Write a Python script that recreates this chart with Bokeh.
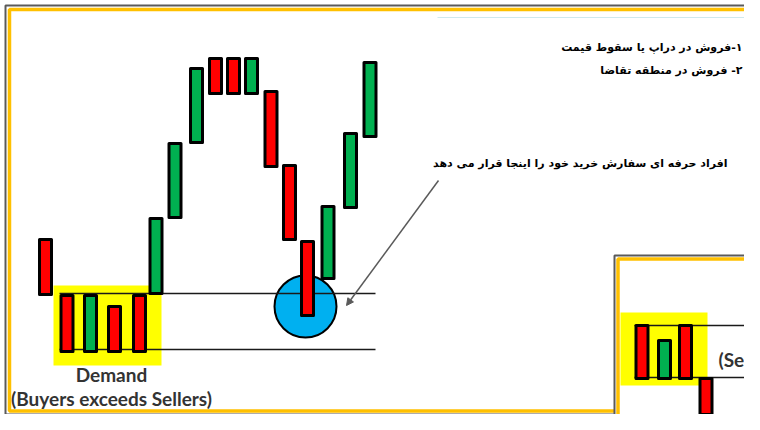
from bokeh.plotting import figure
from bokeh.models import Range1d, Arrow, NormalHead, ColumnDataSource
from bokeh.core.properties import value
from bokeh.embed import file_html
from bokeh.resources import INLINE

# ---- data (price units: price = 430 - screen y) ----
# main panel candles
cx = [45, 66.5, 90, 114, 139, 155.5, 174.5, 196, 215, 233, 251, 270.5, 289, 307, 327.5, 350, 369.5]
c_open = [191, 135, 79, 124, 135, 137, 213, 288, 372, 372, 337, 339, 265, 189, 152, 223, 294]
c_close = [136, 79, 135, 79, 79, 212, 287, 362, 337, 337, 372, 264, 191, 115, 224, 297, 368]
# second panel candles
cx2 = [641.5, 664, 685, 705.5]
c2_open = [105, 52, 105, 52]
c2_close = [52, 90, 52, -20]

support_level = [137, 81]        # demand zone levels
supply_level = [105, 53]         # second panel levels
demand_zone = dict(left=53, right=161, top=145, bottom=65)
supply_zone = dict(left=620, right=707, top=118, bottom=45)
retest = dict(x=305, y=124, r=31)

label_demand = "Demand"
label_demand2 = "(Buyers exceeds Sellers)"
label_supply2 = "(Sellers exceeds Buyers)"
fa_lines = ["۱-فروش در دراپ یا سقوط قیمت", "۲- فروش در منطقه تقاضا"]
fa_note = "افراد حرفه ای سفارش خرید خود را اینجا قرار می دهد"

RLE, PDF = "\u202B", "\u202C"

RED = "#ff0000"
GREEN = "#00b050"
YELLOW = "#ffff00"

p = figure(width=744, height=414, output_backend="svg", toolbar_location=None,
           x_range=Range1d(0, 744), y_range=Range1d(16, 430),
           min_border=0, outline_line_color=None)
p.axis.visible = False
p.grid.visible = False
p.background_fill_color = "white"
p.border_fill_color = "white"

# main frame
p.quad(left=[5], right=[759], top=[425], bottom=[16], fill_color=None,
       line_color="#5a5a5a", line_width=2)
p.quad(left=[9], right=[756], top=[421], bottom=[19.5], fill_color=None,
       line_color="#ffc000", line_width=3.5)
# faint line top right
p.line(x=[437, 750], y=[413, 413], line_color="#cfe9ee", line_width=1)

# demand zone
p.quad(left=[demand_zone["left"]], right=[demand_zone["right"]],
       top=[demand_zone["top"]], bottom=[demand_zone["bottom"]],
       fill_color=YELLOW, line_color=None)

# retest circle
p.circle(x=[retest["x"]], y=[retest["y"]], radius=retest["r"],
         fill_color="#00b0f0", line_color="black", line_width=2)

# support lines
for lv in support_level:
    p.line(x=[59, 375], y=[lv, lv], line_color="#1a1a1a", line_width=1.6)

def candles(xs, op, cl, w):
    src = ColumnDataSource(dict(
        x=xs, top=[max(a, b) for a, b in zip(op, cl)],
        bottom=[min(a, b) for a, b in zip(op, cl)],
        color=[GREEN if c > o else RED for o, c in zip(op, cl)]))
    p.vbar(x="x", top="top", bottom="bottom", width=w, source=src,
           fill_color="color", line_color="black", line_width=3,
           line_join="round")

candles(cx, c_open, c_close, 12)

# texts
p.text(x=[111], y=[56], text=[label_demand], text_align="center",
       text_baseline="middle", text_font=value("Lato"), text_font_style="bold",
       text_font_size="19px", text_color="#333333")
p.text(x=[111], y=[32], text=[label_demand2], text_align="center",
       text_baseline="middle", text_font=value("Lato"), text_font_style="bold",
       text_font_size="19px", text_color="#333333")
p.text(x=[742, 742], y=[383, 360], text=[RLE + t + PDF for t in fa_lines],
       text_align="right", text_baseline="middle",
       text_font=value("DejaVu Sans"), text_font_style="bold",
       text_font_size="11px", text_color="black")
p.text(x=[727], y=[267], text=[RLE + fa_note + PDF], text_align="right",
       text_baseline="middle", text_font=value("DejaVu Sans"),
       text_font_style="bold", text_font_size="11px", text_color="black")

p.add_layout(Arrow(x_start=438, y_start=250, x_end=346, y_end=125,
                   line_color="#5a5a5a", line_width=1.5,
                   end=NormalHead(size=7, fill_color="#5a5a5a", line_color="#5a5a5a")))

# second panel
p.quad(left=[614], right=[800], top=[175], bottom=[-20], fill_color="white",
       line_color="#5a5a5a", line_width=2)
p.quad(left=[617.5], right=[800], top=[171.5], bottom=[-20], fill_color=None,
       line_color="#ffc000", line_width=3.5)
p.quad(left=[supply_zone["left"]], right=[supply_zone["right"]],
       top=[supply_zone["top"]], bottom=[supply_zone["bottom"]],
       fill_color=YELLOW, line_color=None)
for lv in supply_level:
    p.line(x=[634, 800], y=[lv, lv], line_color="#1a1a1a", line_width=1.6)
candles(cx2, c2_open, c2_close, 12)
p.text(x=[718], y=[71], text=[label_supply2], text_align="left",
       text_baseline="middle", text_font=value("Lato"), text_font_style="bold",
       text_font_size="19px", text_color="#333333")

open("out.html", "w").write(file_html(p, INLINE))
